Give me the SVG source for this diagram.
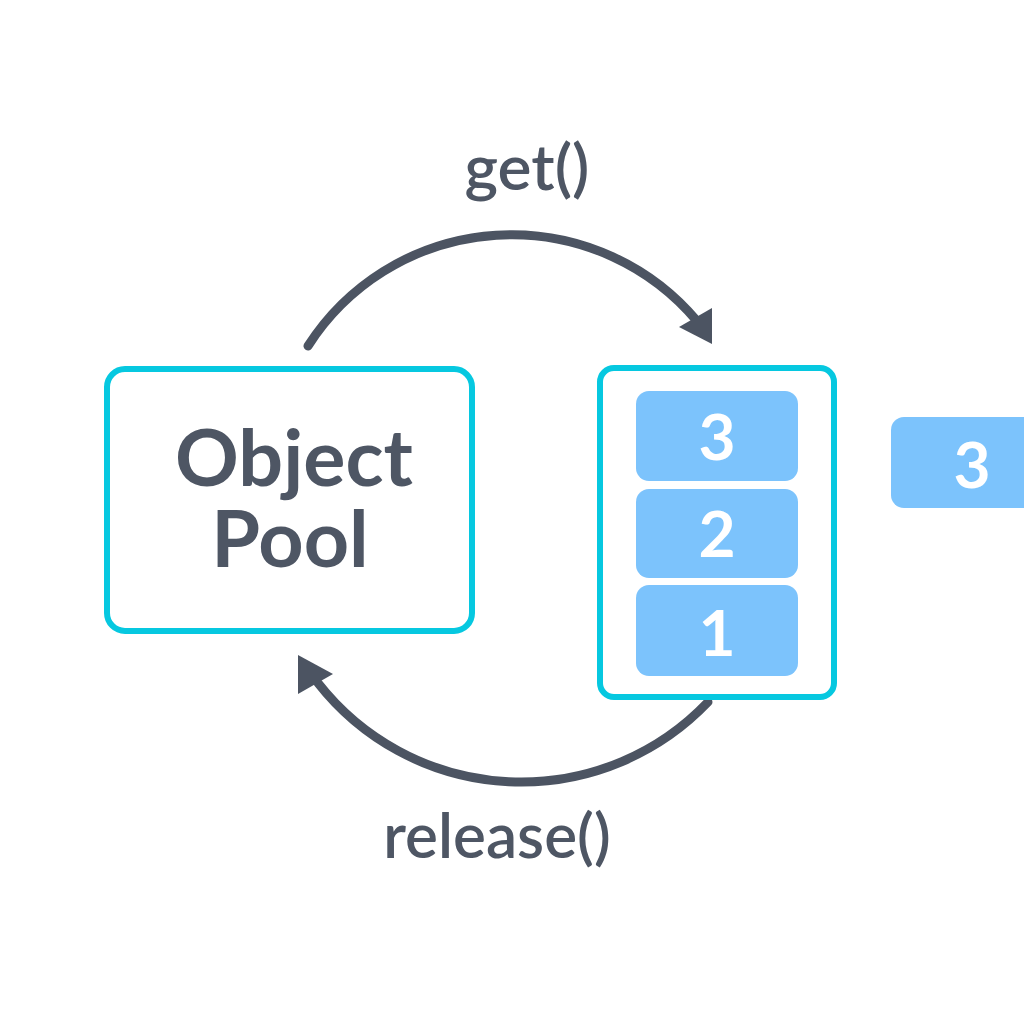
<svg xmlns="http://www.w3.org/2000/svg" width="1024" height="1024" viewBox="0 0 1024 1024">
<style>
.box{fill:#ffffff;stroke:#06c8e0;stroke-width:6}
.slot{fill:#7cc3fc}
.lbl{font-family:Lato,"Open Sans",sans-serif;font-weight:600;fill:#4e5664;text-anchor:middle}
.title{font-weight:700}
.num{font-family:Lato,"Open Sans",sans-serif;font-weight:700;fill:#ffffff;text-anchor:middle;font-size:64px}
.arc{fill:none;stroke:#4c5462;stroke-width:9;stroke-linecap:round}
.head{fill:#4c5462}
</style>
<rect width="1024" height="1024" fill="#ffffff"/>
<g id="connectors">
<path class="arc" d="M 308 346 A 242 242 0 0 1 697 321"/>
<polygon class="head" points="712,308 679,327 712,344"/>
<path class="arc" d="M 708 702 A 258 258 0 0 1 318 683"/>
<polygon class="head" points="298,655 333,674 298,694"/>
<text class="lbl" x="527" y="190" font-size="64">get()</text>
<text class="lbl" x="497" y="858" font-size="62">release()</text>
</g>
<g id="object-pool">
<rect class="box" x="107" y="369" width="365" height="262" rx="18"/>
<text class="lbl title" x="294" y="486" font-size="79">Object</text>
<text class="lbl title" x="290" y="567" font-size="79">Pool</text>
</g>
<g id="stack">
<rect class="box" x="600" y="368" width="234" height="329" rx="14"/>
<g id="slot-3"><rect class="slot" x="636" y="391" width="162" height="90" rx="13"/><text class="num" x="717" y="460">3</text></g>
<g id="slot-2"><rect class="slot" x="636" y="489" width="162" height="89" rx="13"/><text class="num" x="717" y="557">2</text></g>
<g id="slot-1"><rect class="slot" x="636" y="585" width="162" height="91" rx="13"/><text class="num" x="717" y="656">1</text></g>
</g>
<g id="taken-3">
<rect class="slot" x="891" y="417" width="160" height="91" rx="13"/>
<text class="num" x="972" y="488">3</text>
</g>
</svg>
